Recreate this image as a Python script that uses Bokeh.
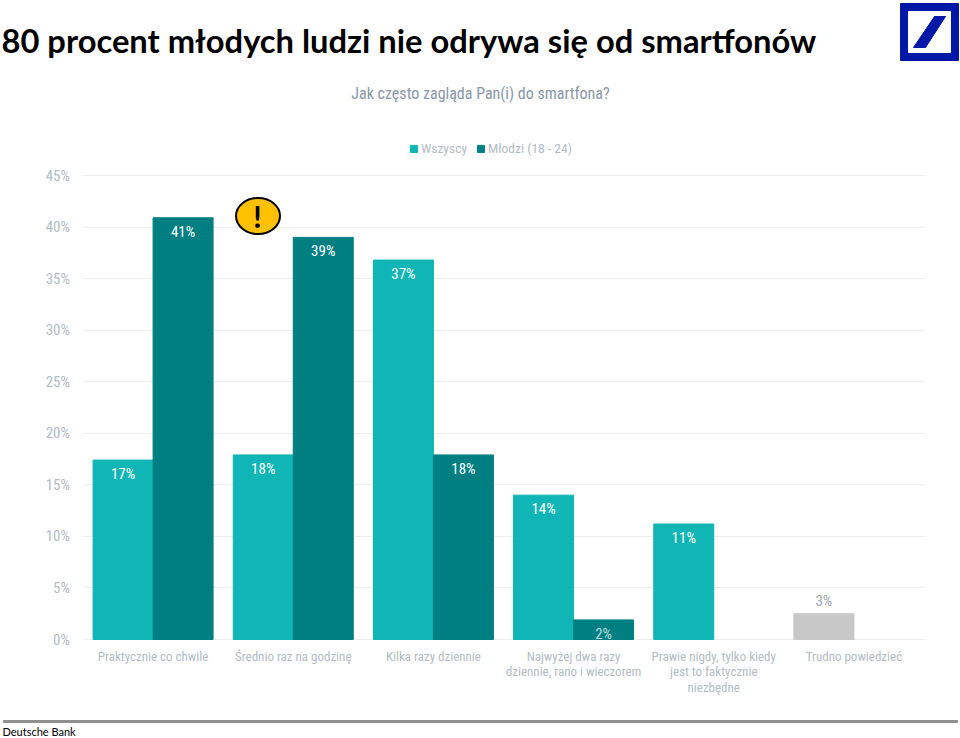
from bokeh.plotting import figure
from bokeh.embed import file_html
from bokeh.resources import INLINE
from bokeh.models import (ColumnDataSource, Range1d, FixedTicker, Legend, LegendItem,
                          PrintfTickFormatter)
from bokeh.core.properties import value

title_text = "80 procent młodych ludzi nie odrywa się od smartfonów"
subtitle_text = "Jak często zagląda Pan(i) do smartfona?"
footer_text = "Deutsche Bank"
categories = ["Praktycznie co chwile", "Średnio raz na godzinę", "Kilka razy dziennie",
              "Najwyżej dwa razy\ndziennie, rano i wieczorem",
              "Prawie nigdy, tylko kiedy\njest to faktycznie\nniezbędne", "Trudno powiedzieć"]
wszyscy_pos = [0, 1, 2, 3, 4]
wszyscy = [17.4, 17.9, 36.8, 14.0, 11.2]
wszyscy_lab = ["17%", "18%", "37%", "14%", "11%"]
mlodzi_pos = [0, 1, 2, 3]
mlodzi = [40.9, 39.0, 17.9, 1.9]
mlodzi_lab = ["41%", "39%", "18%", "2%"]
trudno_pos = [5]
trudno = [2.5]
trudno_lab = ["3%"]
yticks = [0, 5, 10, 15, 20, 25, 30, 35, 40, 45]

NARROW = "Roboto Condensed"
TICK = "#b4bcc4"
W, H = 960, 738
FL, FR, Y0 = 82.5, 923.5, 639      # plot area edges in page pixels
PX_X = (FR - FL) / 6               # pixels per category
PX_Y = 464 / 45                    # pixels per percentage point

p = figure(width=W, height=H, output_backend="svg", toolbar_location=None,
           x_range=Range1d(-0.5 - FL / PX_X, 5.5 + (W - FR) / PX_X),
           y_range=Range1d(-(H - Y0) / PX_Y, Y0 / PX_Y),
           min_border=0, background_fill_color="white", border_fill_color="white")
p.styles = {"position": "absolute", "left": "0px", "top": "0px"}
p.outline_line_color = None
p.extra_x_ranges["px"] = Range1d(0, W)
p.extra_y_ranges["px"] = Range1d(H, 0)

p.xgrid.visible = False
p.ygrid.grid_line_color = "#eeeeee"
p.ygrid.ticker = FixedTicker(ticks=yticks)
p.ygrid.cross_bounds = (-0.5, 5.5)
p.xaxis.fixed_location = 0
p.yaxis.fixed_location = -0.5
p.xaxis.ticker = FixedTicker(ticks=list(range(len(categories))))
p.xaxis.major_label_overrides = {i: c for i, c in enumerate(categories)}
p.yaxis.ticker = FixedTicker(ticks=yticks)
p.yaxis.formatter = PrintfTickFormatter(format="%d%%")
p.axis.axis_line_color = None
p.axis.major_tick_line_color = None
p.axis.minor_tick_line_color = None
p.axis.major_tick_in = 0
p.axis.major_tick_out = 0
p.axis.major_label_text_color = TICK
p.axis.major_label_text_font = NARROW
p.yaxis.major_label_text_font_size = "15px"
p.xaxis.major_label_text_font_size = "13px"
p.xaxis.major_label_text_line_height = 1.05
p.yaxis.major_label_standoff = 13
p.xaxis.major_label_standoff = 9

BW = 60 / PX_X
s1 = ColumnDataSource(dict(x=[i - BW / 2 for i in wszyscy_pos], v=wszyscy, t=wszyscy_lab))
s2 = ColumnDataSource(dict(x=[i + BW / 2 for i in mlodzi_pos], v=mlodzi, t=mlodzi_lab,
                           col=["white", "white", "white", "#b5dcdc"]))
s3 = ColumnDataSource(dict(x=[i - BW / 2 for i in trudno_pos], v=trudno, t=trudno_lab))
r1 = p.vbar(x="x", top="v", width=BW, source=s1, color="#10B5B5")
r2 = p.vbar(x="x", top="v", width=BW, source=s2, color="#007F82")
r3 = p.vbar(x="x", top="v", width=BW, source=s3, color="#C8C8C8")

txt = dict(x="x", y="v", text="t", text_align="center", text_baseline="middle",
           text_font=value(NARROW), text_font_size="15px")
p.text(source=s1, y_offset=14, text_color="white", **txt)
p.text(source=s2, y_offset=14, text_color="col", **txt)
p.text(source=s3, y_offset=-13, text_color="#a0a8b0", **txt)

legend = Legend(items=[LegendItem(label="Wszyscy", renderers=[r1]),
                       LegendItem(label="Młodzi (18 - 24)", renderers=[r2])],
                orientation="horizontal", location=(409, 582),
                background_fill_alpha=0, border_line_color=None,
                glyph_width=9, glyph_height=9, label_standoff=3, spacing=9, padding=6,
                label_text_font=NARROW, label_text_font_size="13.5px", label_text_color=TICK)
p.add_layout(legend, "center")

# decorations placed in page pixels
px = dict(x_range_name="px", y_range_name="px")
p.ellipse(x=[257.5], y=[215.5], width=44, height=36, width_units="screen", height_units="screen",
          fill_color="#FFC000", line_color="black", line_width=2, **px)
p.text(x=[257], y=[215], text=["!"], text_align="center", text_baseline="middle", text_font=value("Lato"),
       text_font_style="bold", text_font_size="30px", text_color="black", **px)
p.text(x=[1], y=[40], text=[title_text], text_font=value("Lato"), text_font_style="bold",
       text_font_size="32.7px", text_color="black", text_baseline="middle", **px)
p.text(x=[480], y=[93], text=[subtitle_text], text_font=value(NARROW), text_font_size="16px",
       text_color="#8a97a8", text_baseline="middle", text_align="center", **px)
p.quad(left=[900], right=[958], top=[3], bottom=[60], color="#0018A8", **px)
p.quad(left=[908], right=[950], top=[11], bottom=[52], color="white", **px)
p.patch(x=[913, 925, 945, 934], y=[47, 47, 16, 16], color="#0018A8", **px)
p.quad(left=[3], right=[957], top=[720], bottom=[722], color="#909090", **px)
p.text(x=[2], y=[731], text=[footer_text], text_font=value("Lato"), text_font_size="11px",
       text_color="black", text_baseline="middle", **px)

open("out.html", "w").write(file_html(p, INLINE))
